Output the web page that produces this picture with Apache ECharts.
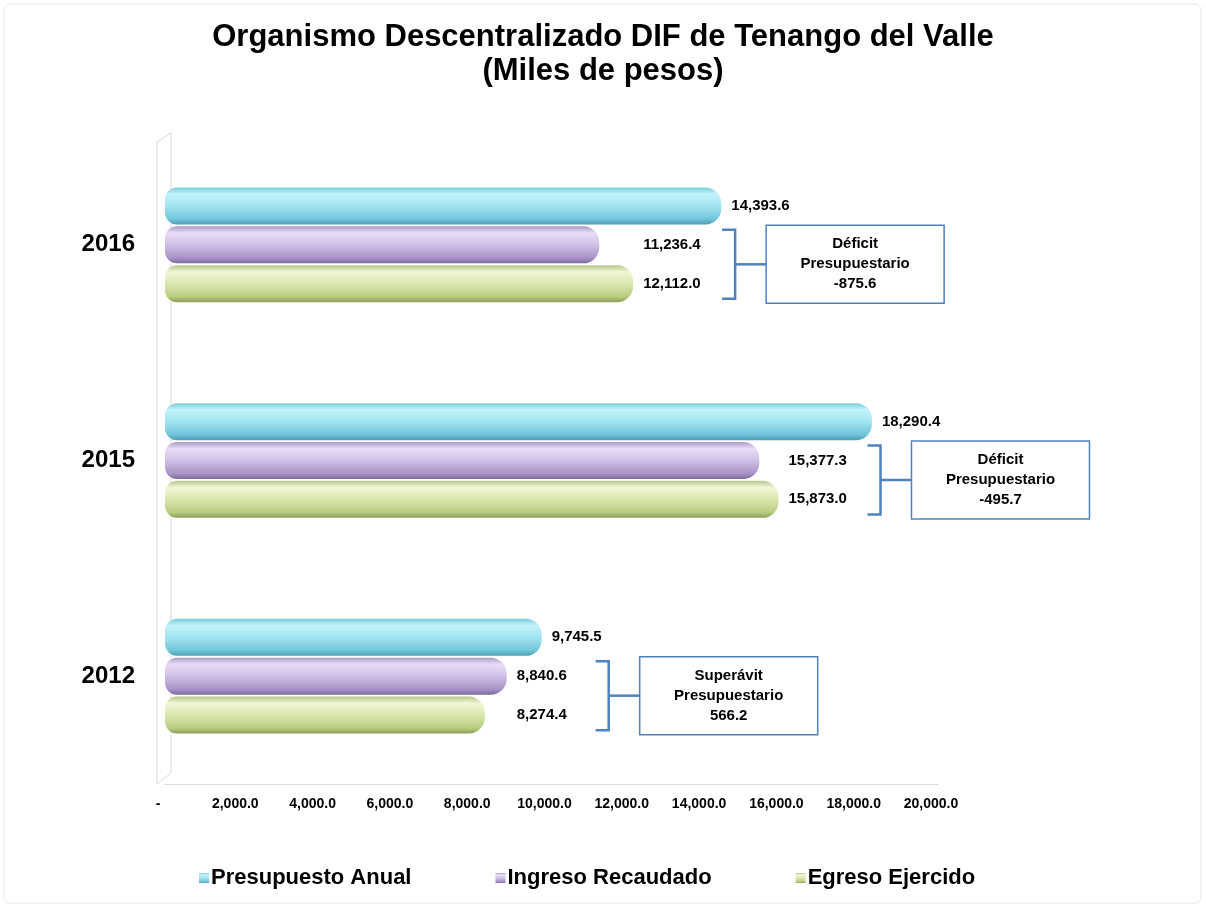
<!DOCTYPE html>
<html>
<head>
<meta charset="utf-8">
<script src="https://cdn.jsdelivr.net/npm/echarts@6/dist/echarts.min.js"></script>
<style>
html,body{margin:0;padding:0;background:#fff}
#main{width:1206px;height:907px}
</style>
</head>
<body>
<div id="main"></div>
<script>
// datos (miles de pesos)
var years = ['2016', '2015', '2012'];
var presupuesto = [14393.6, 18290.4, 9745.5];
var ingreso = [11236.4, 15377.3, 8840.6];
var egreso = [12112.0, 15873.0, 8274.4];
var seriesNames = ['Presupuesto Anual', 'Ingreso Recaudado', 'Egreso Ejercido'];

var FONT = 'Liberation Sans, Arial, sans-serif';

function fmt(v) {
	return v.toLocaleString('en-US', {minimumFractionDigits: 1, maximumFractionDigits: 1});
}

function cyl(c0, c1, c2, c3, c4) {
	return new echarts.graphic.LinearGradient(0, 0, 0, 1, [
		{offset: 0, color: c0},
		{offset: 0.18, color: c1},
		{offset: 0.5, color: c2},
		{offset: 0.85, color: c3},
		{offset: 1, color: c4}
	]);
}

var colCyan = cyl('#7ccadb', '#c2f3fb', '#a2e4f1', '#72c5da', '#4a9fb5');
var colPurple = cyl('#ab9bc6', '#e9dcf7', '#d0c0e7', '#a992c8', '#7e6b9a');
var colGreen = cyl('#b6c68a', '#f0f6d6', '#dae7ad', '#b9cd80', '#8c9e58');

function barSeries(name, data, color) {
	return {
		name: name,
		type: 'bar',
		data: data,
		barWidth: 37,
		barGap: '5%',
		itemStyle: {color: color, borderRadius: [12, 16, 16, 12]},
		label: {
			show: true,
			position: 'right',
			distance: 10,
			color: '#000',
			fontFamily: FONT,
			fontWeight: 'bold',
			fontSize: 15,
			formatter: function (p) { return fmt(p.value); }
		}
	};
}

var chart = echarts.init(document.getElementById('main'));

var gridTop = 137, gridBottom = 123, gridLeft = 165, gridRight = 268;

var option = {
	backgroundColor: '#fff',
	animation: false,
	title: {
		text: 'Organismo Descentralizado DIF de Tenango del Valle\n(Miles de pesos)',
		left: 'center',
		top: 15,
		textStyle: {fontFamily: FONT, fontWeight: 'bold', fontSize: 31, lineHeight: 34, color: '#000'}
	},
	legend: {
		data: seriesNames,
		bottom: 13,
		left: 194,
		icon: 'rect',
		itemWidth: 10,
		itemHeight: 10,
		itemGap: 84,
		textStyle: {fontFamily: FONT, fontWeight: 'bold', fontSize: 22, color: '#000', padding: [0, 0, 0, -3]}
	},
	grid: {top: gridTop, bottom: gridBottom, left: gridLeft, right: gridRight, containLabel: false},
	xAxis: {
		type: 'value',
		min: 0,
		max: 20000,
		interval: 2000,
		splitLine: {show: false},
		axisTick: {show: false},
		axisLine: {show: true, lineStyle: {color: '#d9d9d9', width: 1}},
		axisLabel: {
			margin: 13,
			color: '#000',
			fontFamily: FONT,
			fontWeight: 'bold',
			fontSize: 14,
			padding: [0, 14, 0, 0],
			formatter: function (v) { return v === 0 ? '-' : fmt(v); }
		}
	},
	yAxis: {
		type: 'category',
		data: years,
		inverse: true,
		axisLine: {show: false},
		axisTick: {show: false},
		axisLabel: {margin: 30, color: '#000', fontFamily: FONT, fontWeight: 'bold', fontSize: 24}
	},
	series: [
		barSeries(seriesNames[0], presupuesto, colCyan),
		barSeries(seriesNames[1], ingreso, colPurple),
		barSeries(seriesNames[2], egreso, colGreen)
	]
};

chart.setOption(option);

// alinear etiquetas de ingreso/egreso y dibujar corchetes con cuadros
function px(v, i) {
	return chart.convertToPixel({gridIndex: 0}, [v, i]);
}

var graphics = [];
// marco exterior
graphics.push({
	type: 'rect', silent: true,
	shape: {x: 4, y: 4, width: 1197, height: 899, r: 6},
	style: {fill: 'none', stroke: '#e6e6e6', lineWidth: 1}
});
// pared lateral 3D
var gb = 907 - gridBottom;
graphics.push({
	type: 'polygon', silent: true, z: -1,
	shape: {points: [[gridLeft - 8, gb], [gridLeft - 8, gridTop + 5], [gridLeft + 6, gridTop - 4], [gridLeft + 6, gb - 11]]},
	style: {fill: 'none', stroke: '#d9d9d9', lineWidth: 1}
});

var ingData = [], egrData = [];
for (var i = 0; i < years.length; i++) {
	var mx = Math.max(ingreso[i], egreso[i]);
	var pMax = px(mx, i)[0];
	var dIng = pMax - px(ingreso[i], i)[0];
	var dEgr = pMax - px(egreso[i], i)[0];
	ingData.push({value: ingreso[i], label: {offset: [dIng, 0]}});
	egrData.push({value: egreso[i], label: {offset: [dEgr, 0]}});

	var c = px(0, i)[1];
	var bx = pMax + 102;
	var y1 = c - 15, y2 = c + 54, mid = (y1 + y2) / 2;
	graphics.push({
		type: 'polyline', silent: true,
		shape: {points: [[bx - 13, y1], [bx, y1], [bx, y2], [bx - 13, y2]]},
		style: {fill: 'none', stroke: '#4f81bd', lineWidth: 2.5}
	});
	graphics.push({
		type: 'line', silent: true,
		shape: {x1: bx, y1: mid, x2: bx + 31, y2: mid},
		style: {stroke: '#4f81bd', lineWidth: 2.5}
	});
	graphics.push({
		type: 'rect', silent: true,
		shape: {x: bx + 31, y: mid - 39, width: 178, height: 78},
		style: {fill: '#fff', stroke: '#4f81bd', lineWidth: 1.5}
	});
	var diff = ingreso[i] - egreso[i];
	var tipo = diff < 0 ? 'Déficit' : 'Superávit';
	graphics.push({
		type: 'text', silent: true,
		x: bx + 31 + 89, y: mid,
		style: {
			text: tipo + '\nPresupuestario\n' + fmt(Math.round(diff * 10) / 10),
			align: 'center', verticalAlign: 'middle',
			fontFamily: FONT, fontWeight: 'bold', fontSize: 15, lineHeight: 20,
			fill: '#000'
		}
	});
}

chart.setOption({
	series: [{}, {data: ingData}, {data: egrData}],
	graphic: graphics
});
</script>
</body>
</html>
